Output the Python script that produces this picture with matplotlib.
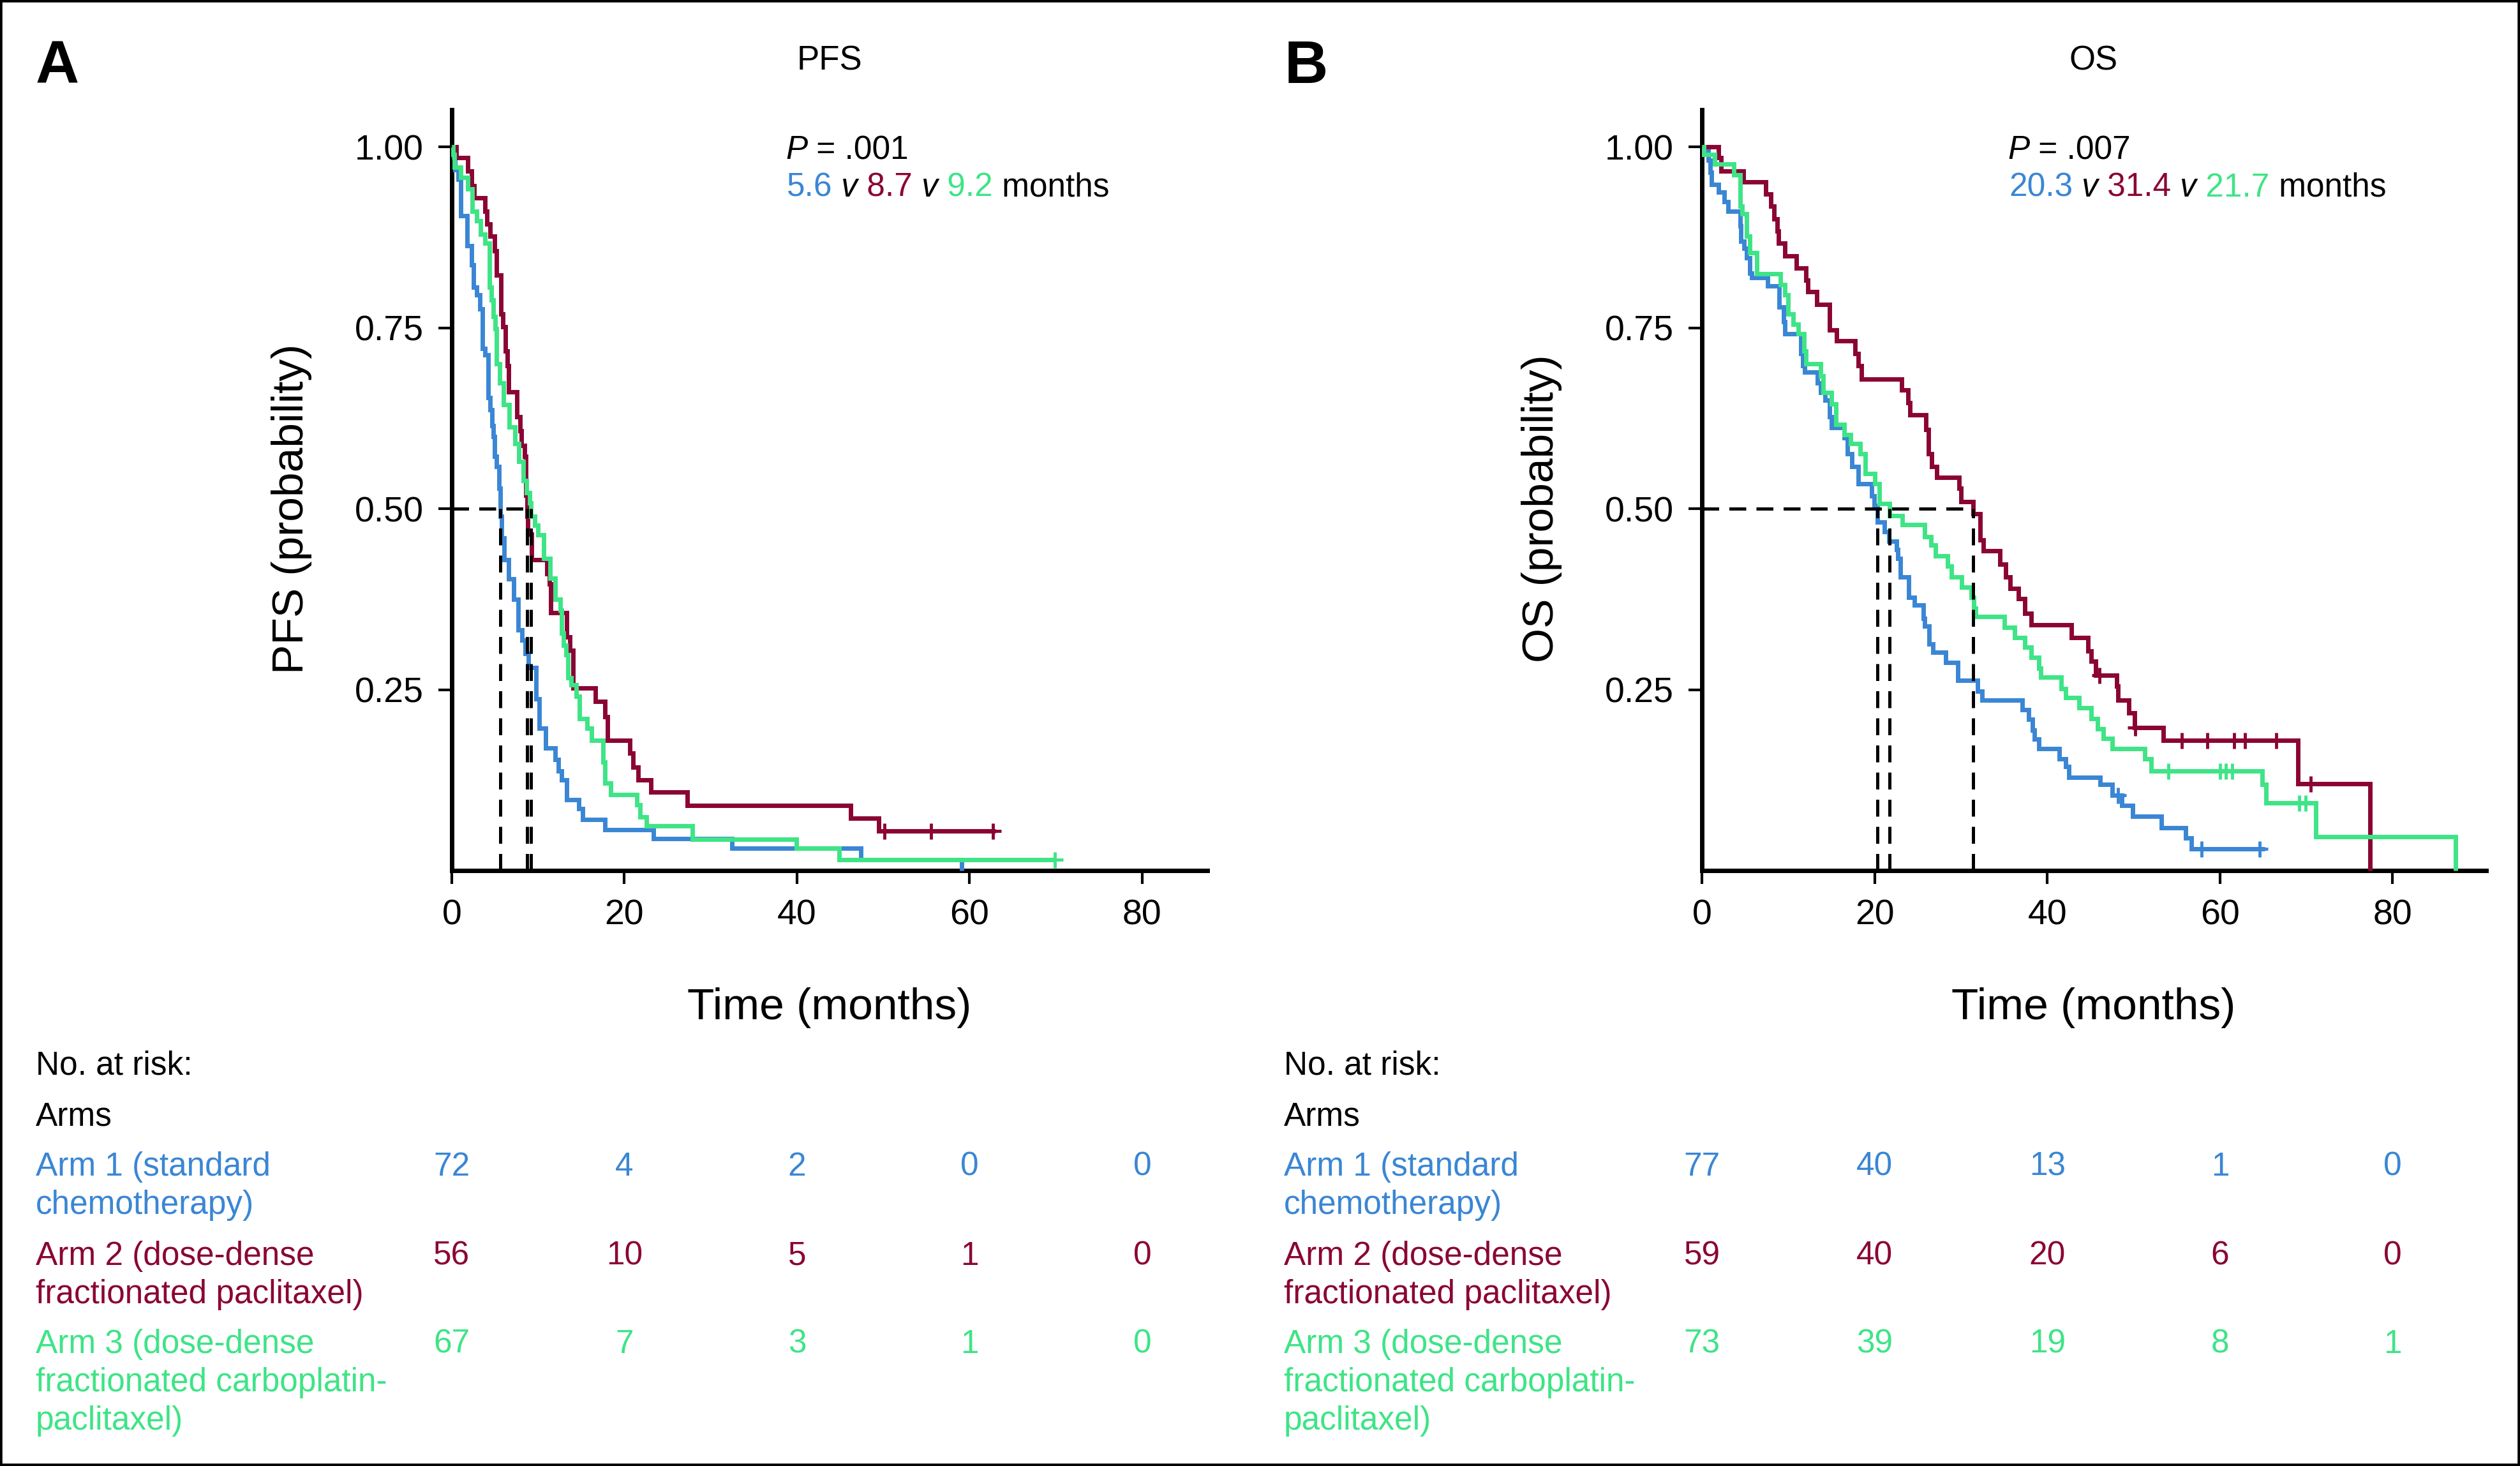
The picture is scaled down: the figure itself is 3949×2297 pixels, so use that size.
import numpy as np
import matplotlib
matplotlib.use("Agg")
import matplotlib.pyplot as plt
from matplotlib import font_manager, transforms
from matplotlib.patches import Rectangle
from matplotlib.text import Annotation

# ---------------- data ----------------
BLUE, RED, GREEN = "#3A86D4", "#8A0434", "#3EE486"
arm_colors = [BLUE, RED, GREEN]

time_ticks = [0, 20, 40, 60, 80]
prob_ticks = [0.25, 0.50, 0.75, 1.00]
prob_labels = ["0.25", "0.50", "0.75", "1.00"]

# Panel A: PFS
pfs1_t = [0.2, 0.39, 0.76, 1.01, 1.75, 2.32, 2.49, 2.86, 3.23, 3.55, 3.84, 4.21, 4.46, 4.63, 4.83,
          4.95, 5.2, 5.45, 5.6, 5.77, 6.06, 6.56, 7.17, 7.66, 8.16, 8.5, 8.9, 9.76, 10.13, 10.87,
          11.98, 12.35, 12.72, 13.33, 14.69, 15.18, 17.77, 23.36, 32.43, 47.4, 59.1]
pfs1_s = [0.986, 0.969, 0.955, 0.905, 0.864, 0.837, 0.806, 0.796, 0.776, 0.722, 0.713, 0.654, 0.637, 0.615, 0.6,
          0.573, 0.559, 0.529, 0.49, 0.46, 0.43, 0.403, 0.375, 0.333, 0.319, 0.3, 0.281, 0.2375, 0.197, 0.17,
          0.154, 0.138, 0.126, 0.098, 0.086, 0.0705, 0.0566, 0.0444, 0.031, 0.0155, 0.0]
pfs1_end = 59.1
pfs1_cens = []

pfs2_t = [0.52, 1.87, 2.32, 2.61, 3.84, 4.09, 4.46, 4.95, 5.2, 5.69, 5.94, 6.19, 6.43, 6.6, 7.54, 7.91,
          8.03, 8.4, 8.58, 8.7, 8.77, 9.27, 11.0, 11.3, 11.48, 13.33, 13.7, 14.07, 16.66, 17.77, 18.02,
          20.6, 20.97, 21.59, 23.07, 27.26, 46.2, 49.5]
pfs2_s = [0.985, 0.967, 0.947, 0.93, 0.911, 0.894, 0.877, 0.857, 0.823, 0.769, 0.752, 0.718, 0.698, 0.662, 0.627, 0.608,
          0.588, 0.573, 0.519, 0.49, 0.465, 0.43, 0.41, 0.396, 0.357, 0.323, 0.305, 0.253, 0.234, 0.213, 0.18,
          0.163, 0.1435, 0.126, 0.109, 0.09, 0.073, 0.055]
pfs2_end = 63.0
pfs2_cens = [50.1, 55.5, 62.7]

pfs3_t = [0.15, 0.3, 1.01, 1.87, 2.37, 2.86, 3.35, 3.84, 4.34, 4.58, 4.78, 5.03, 5.2, 5.52, 6.01, 6.68,
          7.3, 7.79, 8.28, 8.65, 9.02, 9.2, 9.6, 10.0, 10.62, 11.36, 11.98, 12.6, 12.72, 12.96, 13.21,
          13.46, 13.83, 14.44, 14.81, 15.67, 16.17, 17.52, 17.77, 18.39, 21.47, 21.84, 22.58, 27.87,
          39.9, 44.9]
pfs3_s = [0.99, 0.972, 0.958, 0.942, 0.911, 0.898, 0.88, 0.867, 0.806, 0.789, 0.766, 0.749, 0.701, 0.674, 0.644, 0.613,
          0.59, 0.566, 0.539, 0.522, 0.508, 0.49, 0.4775, 0.464, 0.432, 0.404, 0.375, 0.36, 0.328, 0.312, 0.298,
          0.267, 0.257, 0.241, 0.21, 0.197, 0.18, 0.15, 0.121, 0.105, 0.091, 0.074, 0.062, 0.044,
          0.031, 0.0155]
pfs3_end = 69.9
pfs3_cens = [69.9]

pfs_medians = [5.6, 8.7, 9.2]

# Panel B: OS
os1_t = [0.2, 0.69, 0.94, 1.06, 1.92, 2.54, 3.03, 4.39, 4.51, 4.88, 5.13, 5.5, 5.74, 7.59, 8.95, 9.44,
         9.56, 11.46, 11.66, 11.9, 13.38, 13.75, 14.25, 14.74, 14.98, 16.46, 16.83, 17.33, 18.07, 19.67,
         19.92, 20.3, 21.1, 21.6, 22.5, 22.7, 23.0, 23.9, 24.6, 25.6, 25.8, 26.3, 26.7, 28.2, 29.6, 31.9,
         32.4, 37.1, 37.8, 38.3, 38.5, 39.0, 41.4, 42.1, 42.5, 46.1, 47.5, 48.6, 49.9, 53.2, 56.0, 56.7]
os1_s = [0.994, 0.982, 0.965, 0.948, 0.938, 0.925, 0.911, 0.891, 0.87, 0.86, 0.847, 0.826, 0.82, 0.808, 0.779, 0.759,
         0.742, 0.715, 0.698, 0.689, 0.674, 0.661, 0.65, 0.627, 0.612, 0.598, 0.576, 0.559, 0.535, 0.518,
         0.505, 0.482, 0.469, 0.455, 0.444, 0.432, 0.406, 0.378, 0.367, 0.349, 0.338, 0.313, 0.302, 0.288, 0.263, 0.248,
         0.236, 0.223, 0.209, 0.194, 0.182, 0.169, 0.155, 0.144, 0.129, 0.119, 0.104, 0.09, 0.0755, 0.059, 0.045, 0.0306]
os1_end = 65.2
os1_cens = [48.2, 57.9, 64.6]

os2_t = [1.92, 2.17, 4.76, 7.34, 7.96, 8.33, 8.7, 8.82, 9.56, 10.92, 12.03, 12.27, 13.26, 14.74, 15.6, 17.7,
         18.06, 18.43, 23.1, 23.86, 24.1, 25.95, 26.2, 26.57, 27.18, 29.77, 30.02, 31.4, 32.2, 32.6, 34.5,
         35.2, 35.7, 36.65, 37.4, 38.1, 42.8, 44.7, 45.1, 45.6, 48.0, 48.2, 49.4, 50.1, 53.4, 69.06, 77.4]
os2_s = [0.985, 0.967, 0.952, 0.935, 0.918, 0.901, 0.884, 0.867, 0.85, 0.833, 0.816, 0.8, 0.783, 0.747, 0.732, 0.715,
         0.698, 0.679, 0.664, 0.647, 0.63, 0.61, 0.576, 0.559, 0.544, 0.529, 0.51, 0.493, 0.457, 0.442, 0.424,
         0.406, 0.39, 0.376, 0.356, 0.34, 0.322, 0.304, 0.29, 0.27, 0.255, 0.236, 0.218, 0.198, 0.18, 0.1205, 0.0]
os2_end = 77.4
os2_cens = [46.0, 50.2, 55.6, 58.5, 61.6, 62.9, 66.5, 70.5]

os3_t = [0.2, 1.43, 3.65, 4.39, 4.63, 5.13, 5.5, 6.36, 9.07, 9.56, 9.93, 10.55, 11.17, 11.78, 12.03, 13.75,
         14.0, 14.98, 15.48, 16.46, 17.2, 18.31, 18.93, 20.04, 20.53, 21.7, 23.2, 25.8, 26.5, 27.0, 28.4,
         28.9, 30.05, 31.2, 31.5, 31.7, 35.0, 36.2, 37.4, 38.1, 39.0, 39.25, 41.6, 42.1, 43.7, 45.1, 45.8,
         46.5, 47.5, 51.3, 52.0, 64.9, 65.3, 71.1, 87.3]
os3_s = [0.99, 0.977, 0.962, 0.918, 0.908, 0.877, 0.854, 0.825, 0.81, 0.796, 0.769, 0.755, 0.742, 0.718, 0.701, 0.684,
         0.661, 0.645, 0.617, 0.603, 0.59, 0.576, 0.549, 0.535, 0.507, 0.491, 0.478, 0.462, 0.45, 0.435, 0.421,
         0.406, 0.392, 0.378, 0.363, 0.351, 0.336, 0.322, 0.309, 0.295, 0.28, 0.268, 0.252, 0.239, 0.225, 0.21, 0.196,
         0.183, 0.169, 0.155, 0.138, 0.119, 0.0935, 0.0468, 0.0]
os3_end = 87.3
os3_cens = [54.0, 60.0, 60.7, 61.4, 69.2, 69.9]

os_medians = [20.3, 31.4, 21.7]

arm_label_lines = [
    ["Arm 1 (standard", "chemotherapy)"],
    ["Arm 2 (dose-dense", "fractionated paclitaxel)"],
    ["Arm 3 (dose-dense", "fractionated carboplatin-", "paclitaxel)"],
]
pfs_risk = [[72, 4, 2, 0, 0], [56, 10, 5, 1, 0], [67, 7, 3, 1, 0]]
os_risk = [[77, 40, 13, 1, 0], [59, 40, 20, 6, 0], [73, 39, 19, 8, 1]]

pfs_p = ".001"
os_p = ".007"

# ---------------- fonts ----------------
names = {f.name for f in font_manager.fontManager.ttflist}
BASE = "Liberation Sans" if "Liberation Sans" in names else "DejaVu Sans"
if "Liberation Sans Narrow" in names:
    COND, COND_FS = "Liberation Sans Narrow", 60
else:
    COND, COND_FS = BASE, 50
plt.rcParams["font.family"] = [BASE, "DejaVu Sans"]

W, H = 3949, 2297
fig = plt.figure(figsize=(W / 100, H / 100), dpi=100)


def fx(px):
    return px / W


def fy(py):
    return 1 - py / H


axA = fig.add_axes([fx(708), fy(1364.4), fx(1892 - 708), (1364.4 - 171.5) / H])
axB = fig.add_axes([fx(2667.4), fy(1364.4), fx(3896 - 2667.4), (1364.4 - 171.5) / H])


def setup(ax, xmax):
    ax.set_xlim(0, xmax)
    ax.set_ylim(0, 1.052)
    for sp in ["top", "right"]:
        ax.spines[sp].set_visible(False)
    for sp in ["left", "bottom"]:
        ax.spines[sp].set_linewidth(5)
    ax.set_xticks(time_ticks)
    ax.set_xticklabels([str(t) for t in time_ticks])
    ax.set_yticks(prob_ticks)
    ax.set_yticklabels(prob_labels)
    ax.tick_params(direction="out", length=15, width=3, pad=17, labelsize=40)


def km(ax, t, s, end, cens, color):
    x = np.r_[0.0, t]
    y = np.r_[1.0, s]
    if end > x[-1]:
        x = np.r_[x, end]
        y = np.r_[y, y[-1]]
    ax.step(x, y, where="post", color=color, lw=5, clip_on=False, zorder=3,
            solid_joinstyle="miter", solid_capstyle="butt")
    if cens:
        c = np.asarray(cens)
        cy = y[np.searchsorted(x, c, side="right") - 1]
        ax.plot(c, cy, "+", ms=18, mew=3.5, color=color, clip_on=False, zorder=4)


def medians(ax, meds):
    dash = (0, (5.3, 3.2))
    for m in meds:
        ax.plot([m, m], [0, 0.5], ls=dash, color="black", lw=3.6, zorder=5)
    ax.plot([0, max(meds)], [0.5, 0.5], ls=dash, color="black", lw=3.6, zorder=5)


def chain(x, y, pieces, fs):
    t0 = fig.text(x, y, pieces[0][0], color=pieces[0][1], style=pieces[0][2],
                  fontsize=fs, ha="left", va="baseline")
    prev = t0
    for txt, col, sty in pieces[1:]:
        ann = Annotation(txt, xy=(1, 0), xycoords=prev, xytext=(0, 0),
                         textcoords="offset points", ha="left", va="bottom",
                         color=col, style=sty, fontsize=fs, annotation_clip=False)
        fig.add_artist(ann)
        prev = ann
    return t0


setup(axA, 87.55)
setup(axB, 90.84)

for ax, data, meds in [
    (axA, [(pfs1_t, pfs1_s, pfs1_end, pfs1_cens), (pfs2_t, pfs2_s, pfs2_end, pfs2_cens),
           (pfs3_t, pfs3_s, pfs3_end, pfs3_cens)], pfs_medians),
    (axB, [(os1_t, os1_s, os1_end, os1_cens), (os2_t, os2_s, os2_end, os2_cens),
           (os3_t, os3_s, os3_end, os3_cens)], os_medians),
]:
    for (t, s, e, c), col in zip(data, arm_colors):
        km(ax, t, s, e, c, col)
    medians(ax, meds)

# Panel letters and titles
fig.text(fx(56), fy(130), "A", fontsize=68, fontweight="bold", ha="left", va="baseline")
fig.text(fx(2013), fy(130), "B", fontsize=68, fontweight="bold", ha="left", va="baseline")
fig.text(fx(1300), fy(109), "PFS", fontsize=38, ha="center", va="baseline")
fig.text(fx(3281), fy(109), "OS", fontsize=38, ha="center", va="baseline")

# axis labels
fig.text(fx(457), fy(797), "PFS (probability)", family=[COND, BASE], fontsize=COND_FS,
         rotation=90, ha="center", va="center")
fig.text(fx(2416), fy(797), "OS (probability)", family=[COND, BASE], fontsize=COND_FS,
         rotation=90, ha="center", va="center")
fig.text(fx(1300), fy(1597), "Time (months)", family=[COND, BASE], fontsize=COND_FS,
         ha="center", va="baseline")
fig.text(fx(3281), fy(1597), "Time (months)", family=[COND, BASE], fontsize=COND_FS,
         ha="center", va="baseline")

# P values and medians
FS_ANN = 37
for px, p, meds in [(1231, pfs_p, pfs_medians), (3146, os_p, os_medians)]:
    chain(fx(px), fy(249), [("P", "black", "italic"), (" = " + p, "black", "normal")], FS_ANN)
    pieces = [(f"{meds[0]}", BLUE, "normal"), (" v", "black", "italic"), (f" {meds[1]}", RED, "normal"),
              (" v", "black", "italic"), (f" {meds[2]}", GREEN, "normal"), (" months", "black", "normal")]
    chain(fx(px + 2), fy(308), pieces, FS_ANN)

# Number at risk tables
FS_TAB = 37
row_base = [1842, 1982, 2120]
for ax, left, risk in [(axA, 56, pfs_risk), (axB, 2012, os_risk)]:
    fig.text(fx(left), fy(1684), "No. at risk:", fontsize=FS_TAB, ha="left", va="baseline")
    fig.text(fx(left), fy(1764), "Arms", fontsize=FS_TAB, ha="left", va="baseline")
    tr = transforms.blended_transform_factory(ax.transData, fig.transFigure)
    for i, (lines, col, nums) in enumerate(zip(arm_label_lines, arm_colors, risk)):
        for j, ln in enumerate(lines):
            fig.text(fx(left), fy(row_base[i] + 60 * j), ln, color=col, fontsize=FS_TAB,
                     ha="left", va="baseline")
        for tt, n in zip(time_ticks, nums):
            fig.text(tt, fy(row_base[i]), str(n), color=col, fontsize=FS_TAB, ha="center",
                     va="baseline", transform=tr)

# outer frame
fig.patches.append(Rectangle((0, 0), 1, 1, transform=fig.transFigure, fill=False,
                             lw=5.5, ec="black"))

fig.savefig("out.png", dpi=100)
